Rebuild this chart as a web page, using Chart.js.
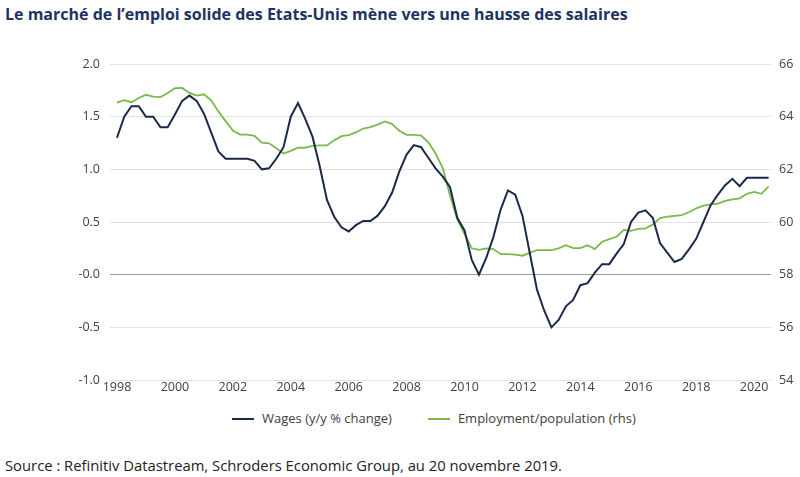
<!DOCTYPE html>
<html>
<head>
<meta charset="utf-8">
<script src="https://cdn.jsdelivr.net/npm/chart.js@4.4.1/dist/chart.umd.min.js"></script>
<style>
  body { margin: 0; background: #fff; font-family: "Open Sans", sans-serif; }
  #page { position: relative; width: 800px; height: 477px; overflow: hidden; }
  #title { position: absolute; left: 5px; top: 3px; font-size: 16px; font-weight: bold; color: #1d3461; white-space: nowrap; }
  #chart-box { position: absolute; left: 0; top: 28px; width: 800px; height: 373px; }
  #legend { position: absolute; top: 409px; left: 232px; font-size: 13px; color: #404040; white-space: nowrap; }
  #legend span.item { display: inline-block; margin-right: 36px; }
  #legend span.swatch { display: inline-block; width: 22px; height: 2px; vertical-align: middle; margin-right: 8px; position: relative; top: -1px; }
  #source { position: absolute; left: 5px; top: 455px; font-size: 14.8px; color: #222; white-space: nowrap; }
</style>
</head>
<body>
<div id="page">
  <div id="title">Le marché de l’emploi solide des Etats-Unis mène vers une hausse des salaires</div>
  <div id="chart-box"><canvas id="wages-chart"></canvas></div>
  <div id="legend"></div>
  <div id="source">Source : Refinitiv Datastream, Schroders Economic Group, au 20 novembre 2019.</div>
</div>
<script>
// Quarterly series, first value is 1998 Q1
const startYear = 1998;
const wages = [
    1.3, 1.5, 1.6, 1.6, 1.5, 1.5, 1.4, 1.4, 1.52, 1.65,
    1.7, 1.65, 1.53, 1.35, 1.17, 1.1, 1.1, 1.1, 1.1, 1.08,
    1.0, 1.01, 1.1, 1.21, 1.5, 1.63, 1.48, 1.31, 1.03, 0.71,
    0.55, 0.45, 0.41, 0.47, 0.51, 0.51, 0.56, 0.65, 0.78, 0.98,
    1.14, 1.23, 1.21, 1.11, 1.01, 0.93, 0.83, 0.54, 0.42, 0.14,
    0.0, 0.16, 0.36, 0.62, 0.8, 0.76, 0.56, 0.21, -0.14, -0.34,
    -0.5, -0.43, -0.3, -0.24, -0.1, -0.08, 0.02, 0.1, 0.1, 0.2,
    0.29, 0.5, 0.59, 0.61, 0.54, 0.3, 0.21, 0.12, 0.15, 0.24,
    0.34, 0.5, 0.66, 0.76, 0.85, 0.91, 0.84, 0.92, 0.92, 0.92,
    0.92
];
const employment = [
    64.53, 64.63, 64.55, 64.71, 64.83, 64.76, 64.74, 64.9, 65.08, 65.09,
    64.9, 64.8, 64.85, 64.62, 64.2, 63.83, 63.47, 63.32, 63.32, 63.27,
    63.01, 62.99, 62.8, 62.6, 62.7, 62.82, 62.82, 62.89, 62.91, 62.91,
    63.1, 63.26, 63.3, 63.4, 63.55, 63.6, 63.7, 63.82, 63.72, 63.46,
    63.31, 63.31, 63.28, 63.03, 62.6, 62.05, 61.0, 60.1, 59.55, 59.0,
    58.94, 59.0, 58.97, 58.78, 58.78, 58.76, 58.72, 58.83, 58.93, 58.93,
    58.93, 59.0, 59.12, 59.01, 59.01, 59.12, 58.97, 59.25, 59.35, 59.44,
    59.7, 59.66, 59.74, 59.76, 59.9, 60.15, 60.2, 60.23, 60.26, 60.37,
    60.52, 60.62, 60.67, 60.7, 60.8, 60.86, 60.9, 61.07, 61.14, 61.07,
    61.35
];
const xTickYears = [1998, 2000, 2002, 2004, 2006, 2008, 2010, 2012, 2014, 2016, 2018, 2020];
const leftTickValues = [-1, -0.5, 0, 0.5, 1, 1.5, 2];
const leftTickLabels = ['-1.0', '-0.5', '-0.0', '0.5', '1.0', '1.5', '2.0'];
const rightTickValues = [54, 56, 58, 60, 62, 64, 66];
const seriesNames = ['Wages (y/y % change)', 'Employment/population (rhs)'];
const seriesColors = ['#1b2a4a', '#7ab94c'];

const toPoints = arr => arr.map((v, i) => ({ x: startYear + i * 0.25, y: v }));

const tickFont = { family: 'Open Sans', size: 12.5 };
const tickColor = '#404040';

new Chart(document.getElementById('wages-chart'), {
    type: 'line',
    data: {
        datasets: [{
            label: seriesNames[0],
            data: toPoints(wages),
            borderColor: seriesColors[0],
            borderWidth: 2,
            pointRadius: 0,
            tension: 0,
            yAxisID: 'y'
        }, {
            label: seriesNames[1],
            data: toPoints(employment),
            borderColor: seriesColors[1],
            borderWidth: 1.8,
            pointRadius: 0,
            tension: 0,
            yAxisID: 'y2'
        }]
    },
    options: {
        responsive: true,
        maintainAspectRatio: false,
        animation: false,
        layout: { padding: { top: 36, left: 0, right: 0, bottom: 6 } },
        plugins: {
            legend: { display: false },
            tooltip: { enabled: false }
        },
        scales: {
            x: {
                type: 'linear',
                min: 1997.758,
                max: 2020.583,
                grid: { display: false, drawTicks: false },
                border: { display: false },
                afterBuildTicks: scale => { scale.ticks = xTickYears.map(v => ({ value: v })); },
                ticks: {
                    padding: 0,
                    font: tickFont,
                    color: tickColor,
                    maxRotation: 0,
                    autoSkip: false,
                    callback: v => String(v)
                }
            },
            y: {
                position: 'left',
                min: -1,
                max: 2,
                afterBuildTicks: scale => { scale.ticks = leftTickValues.map(v => ({ value: v })); },
                afterFit: scale => { scale.width = 110; },
                grid: {
                    drawTicks: false,
                    lineWidth: 1,
                    color: ctx => ctx.tick && ctx.tick.value === 0 ? '#9a9a9a' : '#e2e2e2'
                },
                border: { display: false },
                ticks: {
                    padding: 10,
                    font: tickFont,
                    color: tickColor,
                    callback: v => leftTickLabels[leftTickValues.indexOf(v)]
                }
            },
            y2: {
                position: 'right',
                min: 54,
                max: 66,
                afterBuildTicks: scale => { scale.ticks = rightTickValues.map(v => ({ value: v })); },
                afterFit: scale => { scale.width = 29; },
                grid: { display: false, drawTicks: false },
                border: { display: false },
                ticks: {
                    padding: 8,
                    font: tickFont,
                    color: tickColor,
                    callback: v => String(v)
                }
            }
        }
    }
});

// Legend built from the same names and colours
const legend = document.getElementById('legend');
seriesNames.forEach((name, i) => {
    const item = document.createElement('span');
    item.className = 'item';
    const sw = document.createElement('span');
    sw.className = 'swatch';
    sw.style.background = seriesColors[i];
    item.appendChild(sw);
    item.appendChild(document.createTextNode(name));
    legend.appendChild(item);
});
</script>
</body>
</html>
